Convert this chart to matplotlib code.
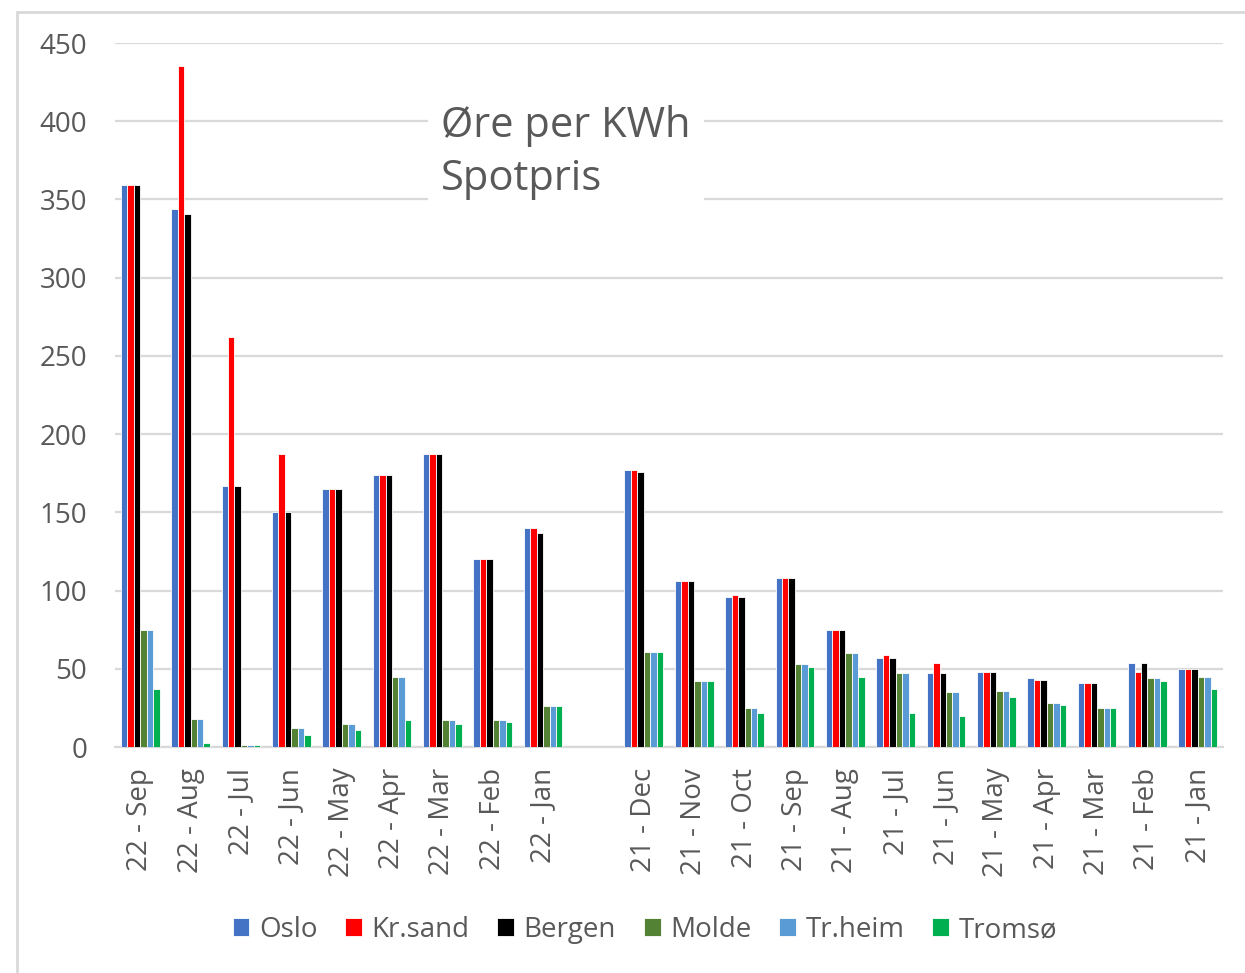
import numpy as np
import matplotlib
matplotlib.use("Agg")
import matplotlib.pyplot as plt
from matplotlib.patches import Rectangle

nan = np.nan
categories = ["22 - Sep", "22 - Aug", "22 - Jul", "22 - Jun", "22 - May", "22 - Apr",
              "22 - Mar", "22 - Feb", "22 - Jan", "",
              "21 - Dec", "21 - Nov", "21 - Oct", "21 - Sep", "21 - Aug", "21 - Jul",
              "21 - Jun", "21 - May", "21 - Apr", "21 - Mar", "21 - Feb", "21 - Jan"]

oslo   = [359, 344, 167, 150, 165, 174, 187, 120, 140, nan, 177, 106, 96, 108, 75, 57, 47, 48, 44, 41, 54, 50]
krsand = [359, 435, 262, 187, 165, 174, 187, 120, 140, nan, 177, 106, 97, 108, 75, 59, 54, 48, 43, 41, 48, 50]
bergen = [359, 341, 167, 150, 165, 174, 187, 120, 137, nan, 176, 106, 96, 108, 75, 57, 47, 48, 43, 41, 54, 50]
molde  = [75, 18, 1.5, 12, 15, 45, 17, 17, 26, nan, 61, 42, 25, 53, 60, 47, 35, 36, 28, 25, 44, 45]
trheim = [75, 18, 1.5, 12, 15, 45, 17, 17, 26, nan, 61, 42, 25, 53, 60, 47, 35, 36, 28, 25, 44, 45]
tromso = [37, 2.5, 1.5, 7.5, 11, 17, 15, 16, 26, nan, 61, 42, 22, 51, 45, 22, 20, 32, 27, 25, 42, 37]

series_names = ["Oslo", "Kr.sand", "Bergen", "Molde", "Tr.heim", "Tromsø"]
series = [oslo, krsand, bergen, molde, trheim, tromso]
colors = ["#4472C4", "#FF0000", "#000000", "#548235", "#5B9BD5", "#00B050"]

plt.rcParams['font.family'] = ['Open Sans', 'DejaVu Sans']
W, H = 1245, 973
fig = plt.figure(figsize=(W / 100, H / 100), dpi=100)
ax = fig.add_axes([115 / W, 1 - 747 / H, (1223 - 115) / W, (747 - 43) / H])

x = np.arange(len(categories))
bw = 0.128
for i, (name, vals, c) in enumerate(zip(series_names, series, colors)):
    ax.bar(x + (i - 2.5) * bw, vals, width=bw, color=c, edgecolor="white",
           linewidth=0.6, label=name, zorder=3)

ax.set_xlim(-0.5, len(categories) - 0.5)
ax.set_ylim(0, 450)
ax.set_yticks(np.arange(0, 451, 50))
ax.grid(axis="y", color="#D9D9D9", linewidth=1.6, zorder=0)
ax.set_axisbelow(True)
for s in ["top", "right", "left"]:
    ax.spines[s].set_visible(False)
ax.spines["bottom"].set_color("#D9D9D9")
ax.spines["bottom"].set_linewidth(1.6)
ax.tick_params(axis="y", length=0, pad=20, labelsize=20, labelcolor="#595959")
ax.tick_params(axis="x", length=0, pad=15, labelsize=20, labelcolor="#595959")
ax.set_xticks(x)
ax.set_xticklabels(categories, rotation=90, va="top", ha="center")

# title box
fig.patches.append(Rectangle((428 / W, 1 - 210 / H), (704 - 428) / W, (210 - 95) / H,
                             transform=fig.transFigure, facecolor="white",
                             edgecolor="none", zorder=5))
fig.text(441 / W, 1 - 137 / H, "Øre per KWh", fontsize=30, color="#595959",
         va="baseline", ha="left", zorder=6)
fig.text(441 / W, 1 - 190 / H, "Spotpris", fontsize=30, color="#595959",
         va="baseline", ha="left", zorder=6)

# outer frame
fig.patches.append(Rectangle((17 / W, -0.1), 1.2, 1 - 12 / H + 0.1,
                             transform=fig.transFigure, facecolor="none",
                             edgecolor="#D9D9D9", linewidth=2, zorder=1))

leg = ax.legend(loc="center", bbox_to_anchor=(645 / W, 1 - 930 / H),
                bbox_transform=fig.transFigure, ncol=6, frameon=False,
                fontsize=20, handlelength=0.6, handleheight=0.6,
                handletextpad=0.35, columnspacing=1.0)
for t in leg.get_texts():
    t.set_color("#595959")

fig.savefig("out.png", dpi=100)
